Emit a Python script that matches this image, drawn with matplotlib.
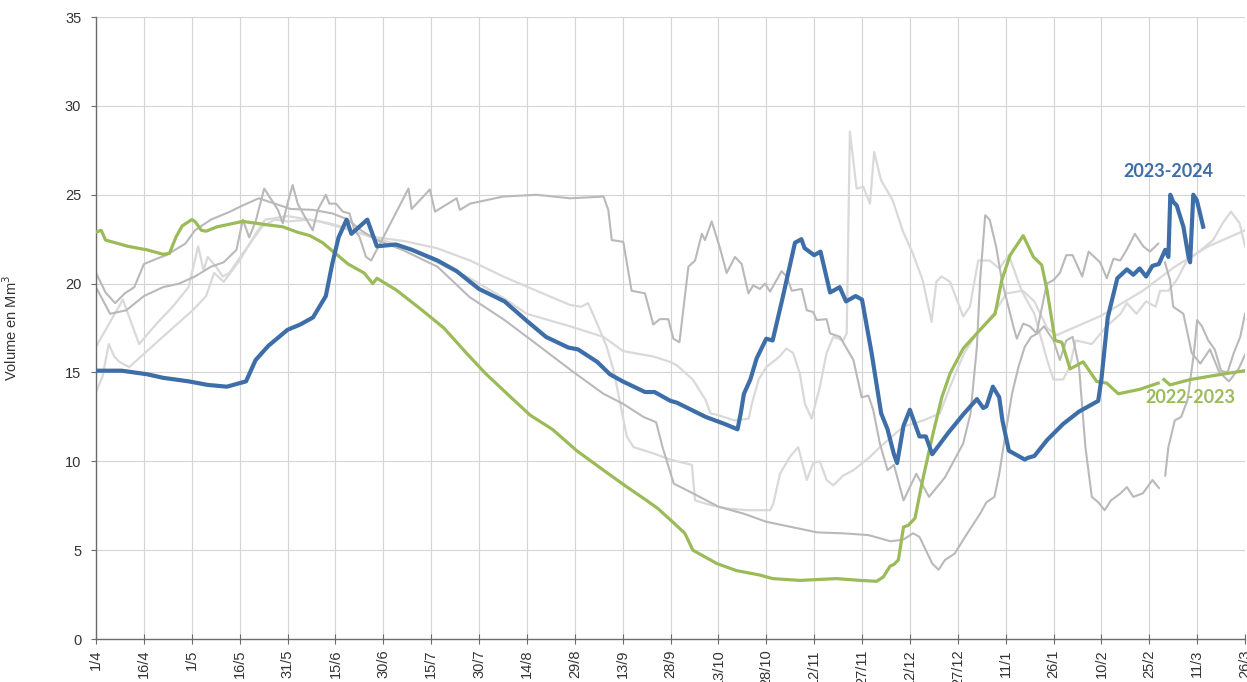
import matplotlib.pyplot as plt
import numpy as np

nan = np.nan

# x positions are days counted from 1 April, volumes in Mm3
tick_days = list(range(0, 361, 15))
tick_labels = ['1/4', '16/4', '1/5', '16/5', '31/5', '15/6', '30/6', '15/7', '30/7',
               '14/8', '29/8', '13/9', '28/9', '13/10', '28/10', '12/11', '27/11',
               '12/12', '27/12', '11/1', '26/1', '10/2', '25/2', '11/3', '26/3']

# season 2023-2024 (blue)
days_2324 = [0, 8, 16, 21, 29, 35, 41, 43, 47, 50, 54, 60, 64, 68, 72, 74, 76, 78.5, 80, 85,
             86, 88, 94, 99, 107, 113, 120, 128, 135, 141, 148, 151, 157, 161, 165, 172, 175,
             180, 182, 191, 197, 201, 202, 203, 205, 207, 210, 212, 215, 219, 221, 222, 225,
             227, 230, 233, 235, 238, 240, 243, 246, 248, 250, 251, 253, 255, 258, 260, 262,
             267, 272, 276, 278, 279, 281, 283, 284, 286, 289, 291, 292, 294, 298, 303, 308,
             314, 315, 317, 320, 323, 325, 327, 329, 331, 333, 335, 336, 336.6, 337.5, 338.6,
             340.7, 342.3, 342.8, 343.8, 344.9, 346.9]
vol_2324 = [15.1, 15.1, 14.9, 14.7, 14.5, 14.3, 14.2, 14.3, 14.5, 15.7, 16.5, 17.4, 17.7, 18.1,
            19.3, 21.1, 22.6, 23.6, 22.8, 23.6, 23.1, 22.1, 22.2, 21.9, 21.3, 20.7, 19.7, 19.0,
            17.9, 17.0, 16.4, 16.3, 15.6, 14.9, 14.5, 13.9, 13.9, 13.4, 13.3, 12.5, 12.1, 11.8,
            12.7, 13.8, 14.6, 15.8, 16.9, 16.8, 19.1, 22.3, 22.5, 22.0, 21.6, 21.8, 19.5, 19.8,
            19.0, 19.3, 19.1, 16.1, 12.7, 11.8, 10.4, 9.9, 12.0, 12.9, 11.4, 11.4, 10.4, 11.6,
            12.7, 13.5, 13.0, 13.1, 14.2, 13.6, 12.3, 10.6, 10.3, 10.1, 10.2, 10.3, 11.2, 12.1,
            12.8, 13.4, 14.6, 18.1, 20.3, 20.8, 20.5, 20.85, 20.4, 21.0, 21.1, 21.9, 21.5, 25.0,
            24.6, 24.4, 23.2, 21.5, 21.2, 25.0, 24.7, 23.2]

# season 2022-2023 (green)
days_2223 = [0, 1.6, 3, 6, 10, 16, 21, 23, 25, 27, 30, 31, 33, 34.5, 38, 42, 46, 50, 54, 58.5,
             63, 67, 71, 75, 79, 84, 86.7, 88, 94, 101.5, 109, 116, 122, 130, 136, 143, 150.6,
             159, 166, 172.5, 176, 180, 184.5, 187, 194.5, 200.7, 208, 212, 220.6, 232, 239.4,
             244.6, 246.7, 248.8, 250, 251.4, 253, 254.5, 256.6, 259, 262.3, 265, 267.6, 271.7,
             277, 281.7, 283.8, 286.4, 290.5, 293.7, 296.3, 298, 300.5, 302.6, 305.2, 309.3,
             313.5, 316.7, 320.3, 327, 332.8, 333.7, 334.6, 336.5, 342.8, 351, 360]
vol_2223 = [22.9, 23.0, 22.45, 22.3, 22.1, 21.9, 21.65, 21.7, 22.6, 23.25, 23.6, 23.5, 23.0,
            22.95, 23.2, 23.35, 23.5, 23.4, 23.3, 23.2, 22.9, 22.7, 22.3, 21.7, 21.1, 20.6, 20.0,
            20.3, 19.65, 18.6, 17.5, 16.1, 14.95, 13.6, 12.6, 11.8, 10.6, 9.5, 8.6, 7.8, 7.35,
            6.7, 5.95, 5.0, 4.25, 3.85, 3.6, 3.4, 3.3, 3.4, 3.3, 3.25, 3.5, 4.1, 4.2, 4.45, 6.3,
            6.4, 6.8, 8.95, 11.6, 13.6, 14.95, 16.35, 17.4, 18.3, 20.2, 21.6, 22.7, 21.5, 21.05,
            19.6, 16.8, 16.7, 15.2, 15.6, 14.5, 14.4, 13.8, 14.05, 14.4, nan, 14.6, 14.3, 14.6,
            14.85, 15.1]

# earlier seasons (grey)
days_a = [0, 3, 6, 9, 12, 15, 19, 22, 28, 31, 36, 42, 46, 51, 61, 68, 74, 79, 83, 88, 96, 107,
          117, 128, 138, 149, 159, 165, 171.5, 175.5, 177.5, 181, 187, 195, 203, 210, 218, 226,
          234, 242, 249, 253, 256, 258, 262, 264, 266, 269, 273, 277, 279, 281.5, 283, 285, 287,
          289, 291, 293, 295, 297, 300, 302, 304, 306, 308, 310, 312, 314, 316, 318, 321, 323,
          325, 328, 331, 333, 334, 335, 336, 338, 340, 342, 344, 345, 346.5, 348.5, 350.5,
          352.5, 354.5, 356.5, 358.5, 360]
vol_a = [20.6, 19.5, 18.9, 19.45, 19.8, 21.1, 21.4, 21.6, 22.25, 23.0, 23.6, 24.05, 24.4, 24.8,
         24.2, 24.15, 23.95, 23.6, 23.0, 22.45, 21.9, 20.95, 19.25, 17.95, 16.6, 15.1, 13.8,
         13.25, 12.5, 12.2, 10.8, 8.75, 8.2, 7.45, 7.05, 6.6, 6.3, 6.0, 5.95, 5.85, 5.5, 5.6,
         5.95, 5.75, 4.25, 3.9, 4.45, 4.8, 5.95, 7.05, 7.7, 8.0, 9.3, 11.6, 13.8, 15.3, 16.45,
         17.0, 17.2, 17.6, 16.8, 15.7, 16.8, 17.0, 15.3, 10.8, 8.0, 7.7, 7.25, 7.8, 8.2, 8.55,
         8.0, 8.2, 8.95, 8.5, nan, 9.2, 10.8, 12.3, 12.5, 13.45, 16.1, 17.95, 17.6, 16.8, 16.3,
         15.1, 15.0, 16.1, 17.0, 18.3]

days_b = [0, 4.4, 9.5, 15, 21, 26, 31, 36, 40, 44, 46, 48, 50, 52.7, 54.3, 57, 58.5, 60, 61.6,
          63.2, 65.3, 67.9, 69.5, 72, 73.1, 75.2, 77.3, 79.4, 81, 82.5, 84.6, 86.2, 90, 97.9,
          98.9, 104.6, 106.2, 113, 114, 117.2, 127.6, 138, 148.5, 159, 160.5, 161.6, 165.2,
          167.8, 172, 174.6, 176.7, 179.3, 180.9, 182.8, 185.6, 187.7, 189.8, 190.8, 192.9,
          195.5, 197.6, 200.2, 202.3, 204.4, 205.9, 208, 209.6, 211.2, 214.8, 216.4, 218, 221.1,
          222.7, 224.7, 225.8, 228.9, 230, 233.1, 237.3, 239.9, 242, 243.5, 245.6, 248, 250,
          253, 257, 261, 266, 271.7, 274, 276, 277, 278.6, 280, 282, 283.8, 285.3, 287.4, 288.5,
          290.5, 292.6, 294.7, 297.9, 300, 302, 304, 306, 309, 311, 314.6, 316.7, 318.8, 320.9,
          322.9, 325.5, 328.1, 330.2, 332.8, 333.8, 334.9, 336.5, 337.5, 340.7, 343.3, 346, 349,
          352, 355, 358, 360]
vol_b = [19.8, 18.3, 18.5, 19.3, 19.8, 20.0, 20.4, 20.95, 21.2, 21.9, 23.6, 22.6, 23.5, 25.35,
         24.9, 24.15, 23.4, 24.5, 25.55, 24.5, 23.8, 23.0, 24.15, 25.0, 24.5, 24.5, 24.05, 23.95,
         23.0, 22.65, 21.5, 21.3, 22.6, 25.35, 24.2, 25.3, 24.05, 24.8, 24.15, 24.5, 24.9, 25.0,
         24.8, 24.9, 24.15, 22.45, 22.35, 19.6, 19.45, 17.7, 18.0, 18.0, 16.9, 16.7, 20.95,
         21.3, 22.8, 22.45, 23.5, 22.0, 20.6, 21.5, 21.1, 19.45, 19.9, 19.7, 20.0, 19.55, 20.7,
         20.4, 19.6, 19.7, 18.5, 18.4, 17.95, 18.0, 17.2, 17.0, 15.7, 13.6, 13.7, 12.9, 11.0,
         9.5, 9.8, 7.8, 9.3, 8.0, 9.1, 11.0, 12.7, 16.45, 20.2, 23.85, 23.6, 22.1, 20.2, 19.1,
         17.6, 16.9, 17.75, 17.6, 17.2, 20.0, 20.2, 20.6, 21.6, 21.6, 20.4, 21.8, 21.2, 20.3,
         21.4, 21.3, 21.9, 22.8, 22.1, 21.8, 22.25, nan, 21.2, 20.2, 18.7, 18.3, 16.1, 15.5,
         16.3, 15.0, 14.5, 15.2, 16.0]

days_c = [0, 8.4, 13.5, 19, 24, 29, 30.5, 32, 33.7, 35, 37.6, 39.7, 41.8, 46, 49, 52, 56, 60,
          67, 73, 79, 85.8, 96.3, 106.7, 117.2, 127.6, 138, 148.5, 152, 154.2, 157, 160, 162.2,
          166.3, 168.4, 174.6, 179.8, 186.7, 187.7, 192.4, 197.6, 203.8, 211.2, 212.2, 214.3,
          217.4, 220, 222.7, 224.7, 226.8, 228.9, 231, 234.1, 237.3, 242.5, 245.6, 248.8, 252.9,
          259.2, 264.4, 267.6, 272, 276, 281.2, 285.3, 290.4, 294, 298, 301, 315, 328, 338,
          348.5, 360]
vol_c = [16.45, 19.1, 16.6, 17.75, 18.7, 19.8, 20.95, 22.1, 20.75, 21.5, 20.95, 20.4, 20.6,
         21.7, 22.45, 23.2, 23.6, 23.5, 23.6, 23.4, 23.1, 22.65, 22.4, 22.0, 21.3, 20.4, 19.6,
         18.8, 18.7, 18.9, 17.75, 16.45, 15.1, 11.4, 10.8, 10.45, 10.1, 9.8, 7.8, 7.55, 7.35,
         7.25, 7.25, 7.6, 9.3, 10.25, 10.8, 8.95, 9.9, 10.0, 8.95, 8.65, 9.2, 9.5, 10.25, 10.8,
         11.3, 11.95, 12.3, 12.7, 14.2, 16.1, 17.2, 18.3, 19.45, 19.6, 19.0, 17.5, 17.1, 18.2,
         19.6, 20.95, 22.1, 23.0]

days_d = [0, 2, 4, 5.7, 7.3, 10.4, 20.9, 30.3, 34.5, 37, 40, 45, 50, 53, 60, 70, 80, 85.8,
          96.3, 106.7, 117.2, 127.6, 135, 148.5, 159, 165.2, 174.6, 179.8, 182, 187, 191, 192.5,
          195, 200, 204.5, 205.5, 207.6, 210, 214.2, 216.3, 218.4, 220.5, 222.1, 224.2, 226.8,
          228.9, 231, 234.1, 235.2, 236.2, 238.3, 240.4, 242.5, 243.8, 246, 249.6, 252.7, 255.9,
          259, 261.8, 263.3, 264.9, 267.6, 271.7, 273.8, 276.4, 280, 283, 286, 290, 294, 296,
          298, 300, 303, 305, 307, 312, 316.7, 321, 323, 326, 329, 332, 333.4, 336, 338.6,
          341.8, 344.9, 350, 353, 355.6, 358.3, 360]
vol_d = [13.9, 14.75, 16.6, 15.9, 15.6, 15.3, 17.0, 18.5, 19.3, 20.6, 20.1, 21.3, 22.8, 23.6,
         23.8, 23.5, 23.0, 22.65, 22.1, 21.2, 20.3, 19.2, 18.3, 17.6, 17.0, 16.2, 15.9, 15.6,
         15.4, 14.6, 13.45, 12.7, 12.6, 12.3, 12.4, 13.25, 14.6, 15.3, 15.9, 16.35, 16.1, 14.95,
         13.25, 12.4, 14.2, 16.1, 17.0, 16.8, 17.2, 28.55, 25.35, 25.45, 24.5, 27.4, 25.8, 24.7,
         23.0, 21.7, 20.2, 17.85, 20.1, 20.4, 20.1, 18.15, 18.7, 21.3, 21.3, 20.85, 21.6, 19.6,
         18.3, 17.0, 15.7, 14.6, 14.6, 15.3, 16.8, 16.6, 17.6, 18.3, 18.9, 18.3, 19.0, 18.7,
         19.6, 19.6, 20.2, 21.3, 21.7, 22.45, 23.4, 24.05, 23.4, 22.1]

blue = '#3e6ea8'
green = '#9bbb59'
grey_mid = '#b9b9b9'
grey_light = '#d9d9d9'

plt.rcParams['font.family'] = ['Liberation Sans', 'DejaVu Sans']

fig = plt.figure(figsize=(12.47, 6.82), dpi=100)
ax = fig.add_axes([0.077, 0.063, 0.9214, 0.912])

ax.plot(days_c, vol_c, color=grey_light, lw=1.6, zorder=2)
ax.plot(days_d, vol_d, color=grey_light, lw=1.6, zorder=2)
ax.plot(days_a, vol_a, color=grey_mid, lw=1.5, zorder=2)
ax.plot(days_b, vol_b, color=grey_mid, lw=1.5, zorder=2)
ax.plot(days_2223, vol_2223, color=green, lw=2.3, zorder=3, solid_joinstyle='round')
ax.plot(days_2324, vol_2324, color=blue, lw=3.0, zorder=4, solid_joinstyle='round')

ax.text(336.0, 26.3, '2023-2024', color=blue, fontsize=13, fontweight='bold',
        family=['Lato', 'DejaVu Sans'], ha='center', va='center', zorder=5)
ax.text(342.8, 13.6, '2022-2023', color=green, fontsize=13, fontweight='bold',
        family=['Lato', 'DejaVu Sans'], ha='center', va='center', zorder=5)

ax.set_xlim(0, 360)
ax.set_ylim(0, 35)
ax.set_xticks(tick_days)
ax.set_xticklabels(tick_labels, rotation=90)
ax.set_yticks(range(0, 36, 5))

ax.grid(True, color='#d4d4d4', lw=0.8, zorder=0)
ax.set_axisbelow(True)

for s in ['top', 'right']:
    ax.spines[s].set_visible(False)
for s in ['left', 'bottom']:
    ax.spines[s].set_color('#6b6b6b')
    ax.spines[s].set_linewidth(1.0)

ax.tick_params(axis='y', direction='out', length=3.6, width=0.8, color='#6b6b6b',
               pad=7, labelsize=10.5, labelcolor='#333333')
ax.tick_params(axis='x', direction='inout', length=7, width=0.8, color='#6b6b6b',
               pad=4, labelsize=10.5, labelcolor='#333333')

ax.set_ylabel('Volume en Mm$^{3}$', fontsize=10.5, color='#333333')
ax.yaxis.set_label_coords(-0.066, 0.5)

fig.savefig('out.png', dpi=100)
